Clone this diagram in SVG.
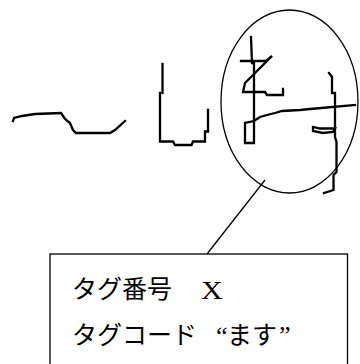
<svg xmlns="http://www.w3.org/2000/svg" width="360" height="364" viewBox="0 0 360 364">
<style>
.hw{fill:none;stroke:#000;stroke-width:2.3;stroke-linejoin:miter;stroke-linecap:square}
.ln{fill:none;stroke:#000;stroke-width:1.3}
.jp{font-family:"Noto Sans CJK JP","Noto Sans CJK SC",sans-serif;font-size:25px;fill:#000}
.lat{font-family:"Liberation Serif",serif;fill:#000}
</style>
<rect width="360" height="364" fill="#fff"/>
<g id="handwriting">
<path class="hw" d="M13,121 L14,118 L22,116 L35,114 L61,113 L65,119 L70,123 L73,130 L76,133 L110,133 L115,130 L125,121"/>
<path class="hw" d="M162.5,64 L162.5,93"/>
<path class="hw" d="M160,93 L160,141.5 L173,141.5 L175,145 L191.5,145 L193,141.5 L205,141.5 L205,131.5 L208,131.5 L208,110"/>
<path class="hw" d="M251,37 L252,63 M254,63 L254,143 L245,143 L245,123 L254,121"/>
<path class="hw" d="M241,61 L266,61 L272,56 L255,73 L245,83 L243,92 L265,92 L267,95 L283,95 L283,89"/>
<path class="hw" d="M254,121 L260,117 L267,115 L275,113 L282,111 L300,110 L310,109 L355,105"/>
<path class="hw" d="M329,73 L332,77 L332,93 L335,93 L335,137 L336.5,142 L336.5,172 L333.5,175 L333.5,190 L324,193"/>
<path class="hw" d="M313,127 L313,131 L323,133 L333,132 L335,128.5 L320,128.5 Z"/>
</g>
<g id="ellipse">
<ellipse class="ln" cx="289.5" cy="101.5" rx="68.5" ry="91.5"/>
</g>
<g id="connectors">
<line class="ln" x1="265" y1="180" x2="207" y2="254"/>
</g>
<g id="label">
<rect class="ln" x="50" y="254" width="297.5" height="120" fill="none" stroke-width="1.6"/>
<text class="jp" x="72" y="298" font-size="26">タグ番号</text>
<text class="lat" x="201" y="299.5" font-size="25" transform="translate(201 299.5) scale(1.2 1) translate(-201 -299.5)">X</text>
<text class="jp" x="72" y="344" font-size="26">タグコード</text>
<text class="lat" x="216" y="344" font-size="26">“</text>
<text class="jp" x="227" y="344">ます</text>
<text class="lat" x="279" y="344" font-size="26">”</text>
</g>
</svg>
